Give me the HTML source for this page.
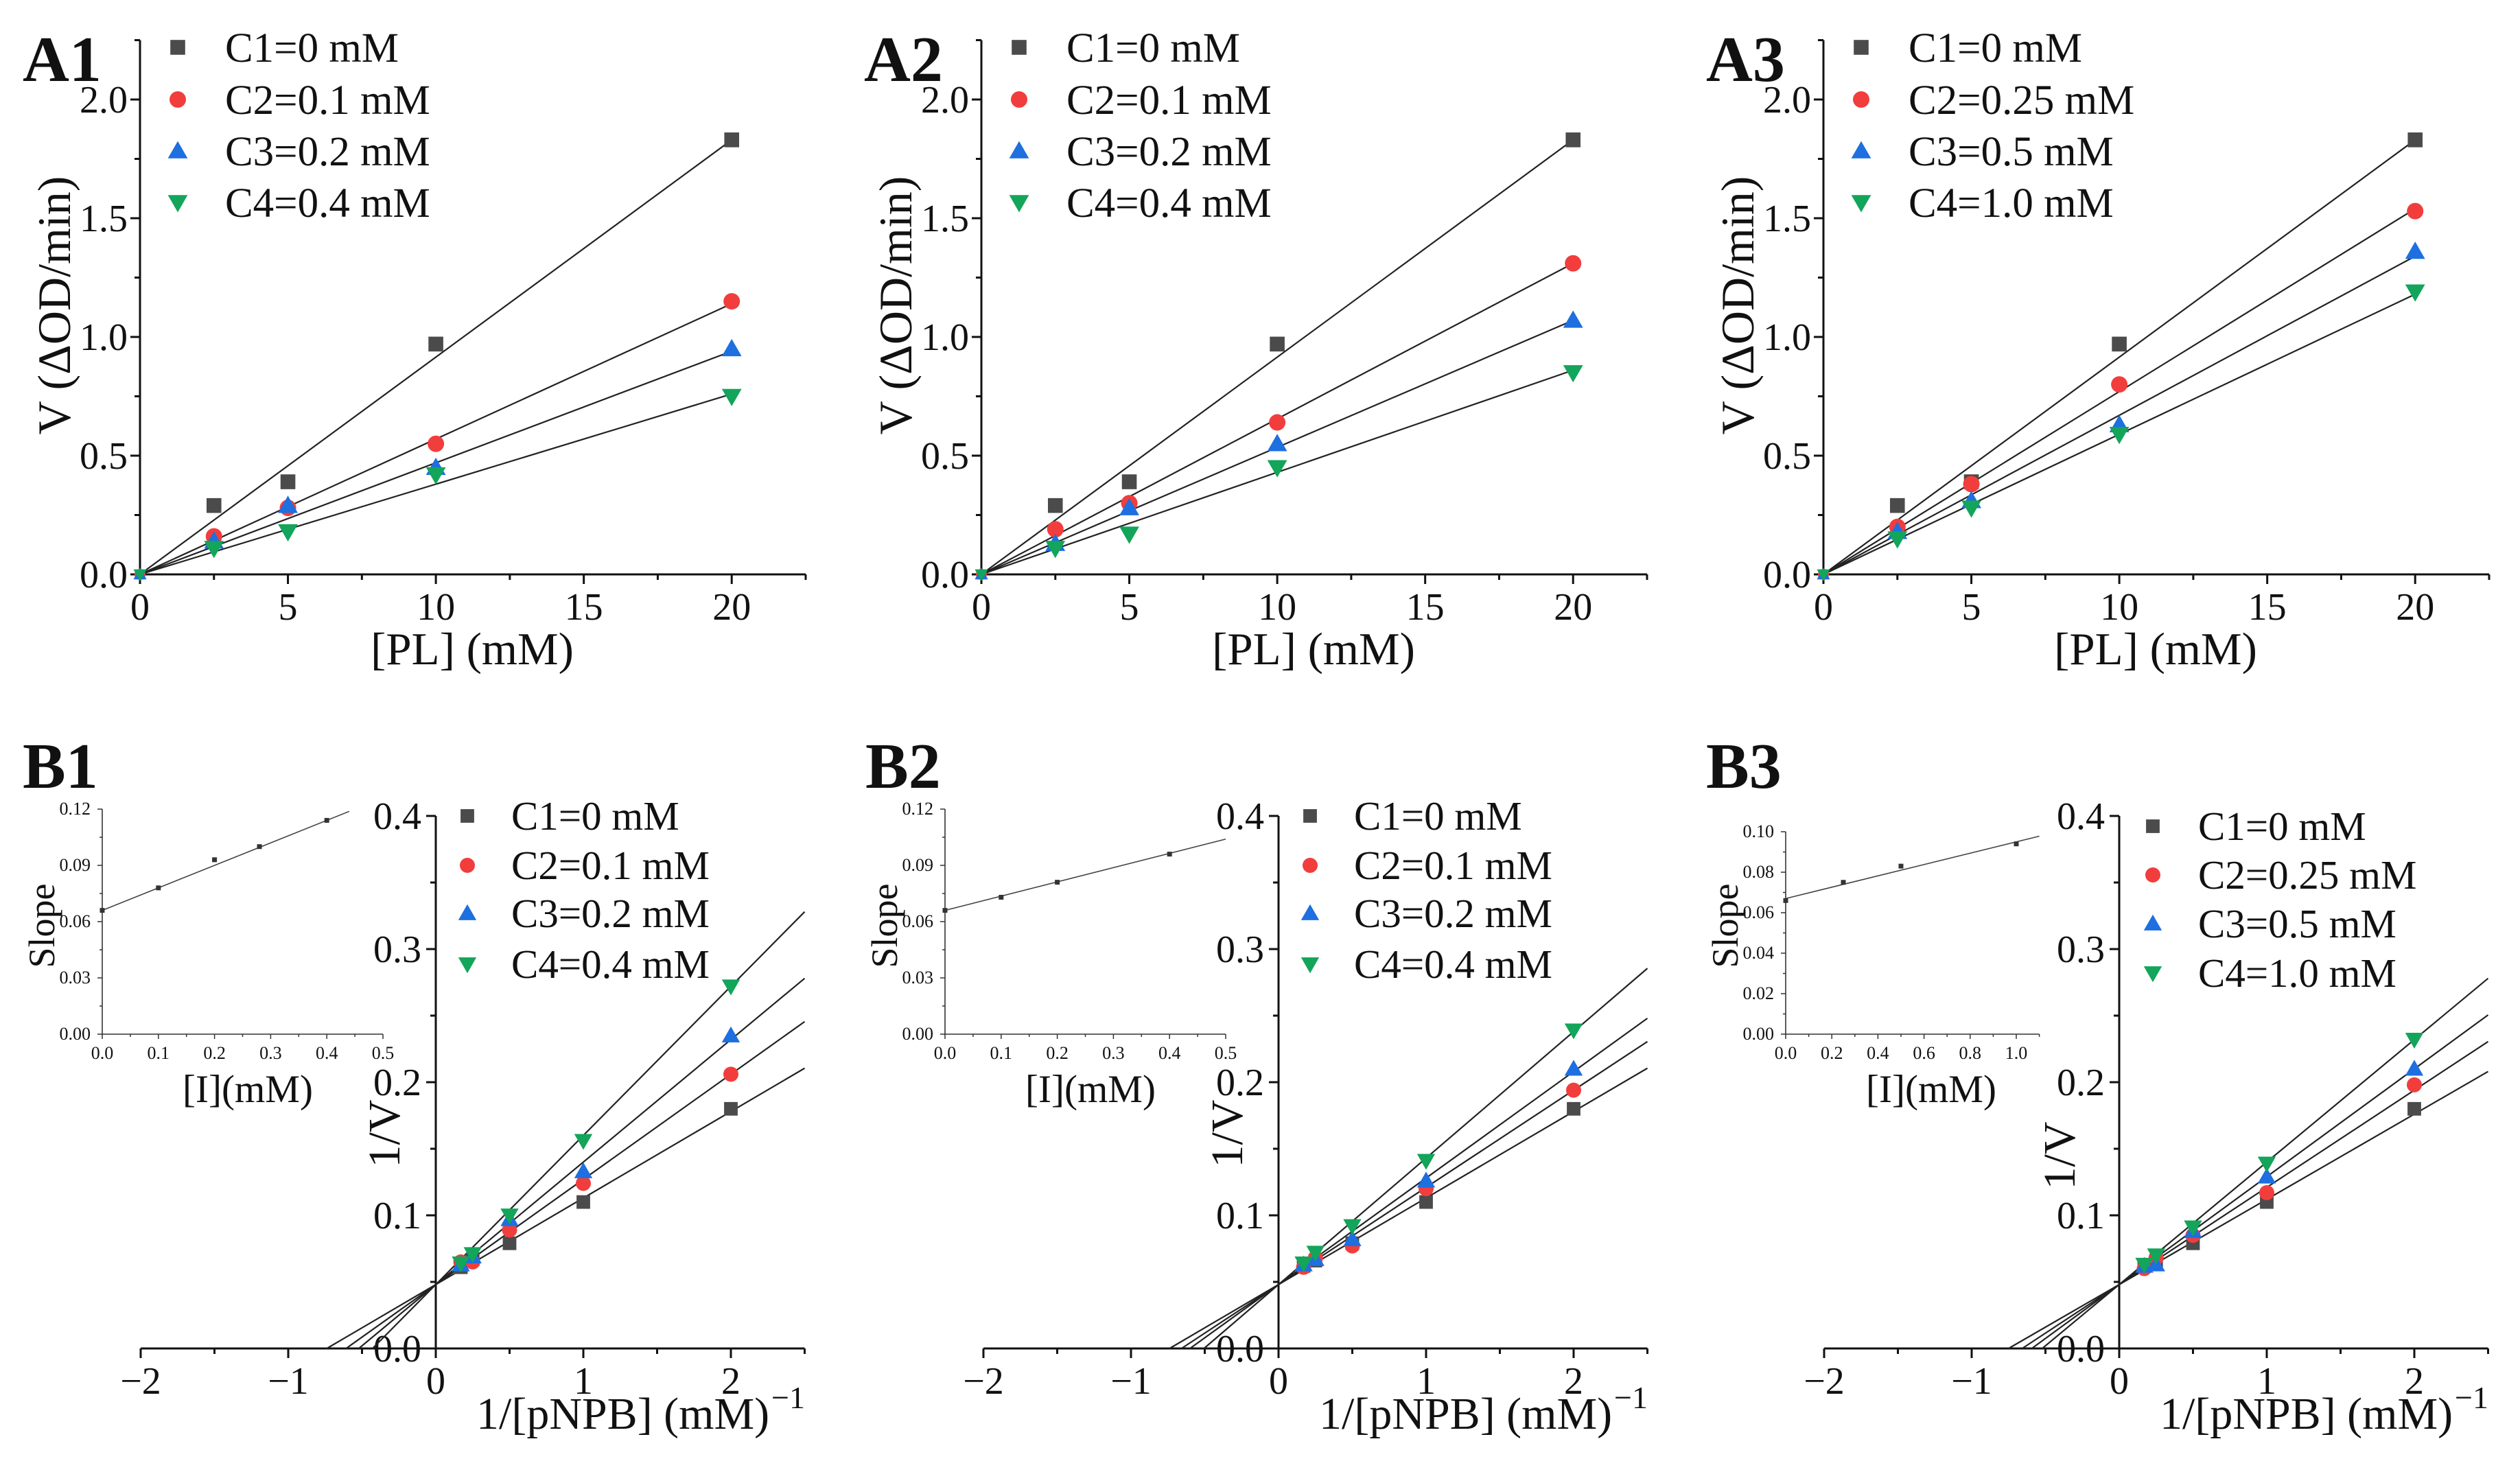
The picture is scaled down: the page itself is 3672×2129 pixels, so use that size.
<!DOCTYPE html>
<html><head><meta charset="utf-8"><style>
html,body{margin:0;padding:0;background:#fff}
svg{display:block}
svg text{font-family:"Liberation Serif","Times New Roman","DejaVu Serif",serif !important;fill:#111}
</style></head><body>
<svg id="fig" width="3672" height="2129" viewBox="0 0 3672 2129" xmlns="http://www.w3.org/2000/svg" font-family="Liberation Serif, serif"></svg>
<script>
// ---- data ----
const aX = [2.5, 5, 10, 20];
const a1C1 = [0.29, 0.39, 0.97, 1.83];
const a1C2 = [0.16, 0.28, 0.55, 1.15];
const a1C3 = [0.14, 0.29, 0.45, 0.95];
const a1C4 = [0.11, 0.18, 0.42, 0.75];
const a1Slopes = [0.0915, 0.057, 0.047, 0.038];
const a2C1 = [0.29, 0.39, 0.97, 1.83];
const a2C2 = [0.19, 0.30, 0.64, 1.31];
const a2C3 = [0.13, 0.28, 0.55, 1.07];
const a2C4 = [0.11, 0.17, 0.45, 0.85];
const a2Slopes = [0.0915, 0.0655, 0.0535, 0.043];
const a3C1 = [0.29, 0.39, 0.97, 1.83];
const a3C2 = [0.20, 0.38, 0.80, 1.53];
const a3C3 = [0.18, 0.31, 0.63, 1.36];
const a3C4 = [0.15, 0.28, 0.59, 1.19];
const a3Slopes = [0.0915, 0.077, 0.067, 0.059];
const bX = [0.17, 0.25, 0.5, 1, 2];
const b1C1 = [0.061, 0.067, 0.079, 0.110, 0.180];
const b1C2 = [0.065, 0.065, 0.089, 0.124, 0.206];
const b1C3 = [0.063, 0.069, 0.097, 0.133, 0.235];
const b1C4 = [0.064, 0.071, 0.100, 0.156, 0.272];
const b1Slopes = [0.065, 0.079, 0.092, 0.112];
const b2C1 = [0.062, 0.066, 0.079, 0.110, 0.180];
const b2C2 = [0.061, 0.068, 0.077, 0.120, 0.194];
const b2C3 = [0.063, 0.067, 0.082, 0.126, 0.210];
const b2C4 = [0.064, 0.072, 0.092, 0.141, 0.239];
const b2Slopes = [0.065, 0.073, 0.080, 0.095];
const b3C1 = [0.062, 0.066, 0.079, 0.110, 0.180];
const b3C2 = [0.060, 0.068, 0.085, 0.117, 0.198];
const b3C3 = [0.062, 0.063, 0.088, 0.129, 0.210];
const b3C4 = [0.063, 0.070, 0.091, 0.139, 0.232];
const b3Slopes = [0.064, 0.073, 0.081, 0.092];
const bIntercept = 0.048;
const in1X = [0, 0.1, 0.2, 0.28, 0.4];
const in1Y = [0.066, 0.078, 0.093, 0.100, 0.114];
const in1Fit = [0.066, 0.12];
const in2X = [0, 0.1, 0.2, 0.4];
const in2Y = [0.066, 0.073, 0.081, 0.096];
const in2Fit = [0.066, 0.076];
const in3X = [0, 0.25, 0.5, 1.0];
const in3Y = [0.066, 0.075, 0.083, 0.094];
const in3Fit = [0.067, 0.028];
const legA12 = ["C1=0 mM","C2=0.1 mM","C3=0.2 mM","C4=0.4 mM"];
const legA3 = ["C1=0 mM","C2=0.25 mM","C3=0.5 mM","C4=1.0 mM"];
const aXTicks = [0,5,10,15,20];
const aYTicks = ["0.0","0.5","1.0","1.5","2.0"];
const bXTicks = ["\u22122","\u22121","0","1","2"];
const bYTicks = ["0.0","0.1","0.2","0.3","0.4"];

const COLORS = ["#4b4b4b","#f23d3d","#1e6fe0","#13a55a"];
const NS = "http://www.w3.org/2000/svg";
const FONT = '"Liberation Serif","Times New Roman","DejaVu Serif",serif';
const svg = document.getElementById("fig");
function el(tag, attrs, parent){const e=document.createElementNS(NS,tag);for(const k in attrs)e.setAttribute(k,attrs[k]);(parent||svg).appendChild(e);return e;}
function txt(s, attrs, parent){const t=el("text",attrs,parent);t.style.fontFamily=FONT;t.textContent=s;return t;}
function marker(kind, cx, cy, s, g){
  let m;
  if(kind===0) m=el("rect",{x:cx-s*0.45,y:cy-s*0.45,width:s*0.9,height:s*0.9,fill:COLORS[0]},g);
  else if(kind===1) m=el("circle",{cx:cx,cy:cy,r:s*0.5,fill:COLORS[1]},g);
  else if(kind===2) m=el("polygon",{points:`${cx},${cy-s*0.6} ${cx-s*0.6},${cy+s*0.45} ${cx+s*0.6},${cy+s*0.45}`,fill:COLORS[2]},g);
  else m=el("polygon",{points:`${cx},${cy+s*0.6} ${cx-s*0.6},${cy-s*0.45} ${cx+s*0.6},${cy-s*0.45}`,fill:COLORS[3]},g);
  return m;
}

function panelA(ox, label, series, slopes, legend){
  const g=el("g",{transform:`translate(${ox},0)`});
  
  
  const sx=v=>204+v*(970/22.5), sy=v=>837-v*346;
  const ax=el("path",{d:`M${sx(0)},${sy(2.25)} V${sy(0)} H${sx(22.5)}`,stroke:"#111","stroke-width":3,fill:"none"},g);
   
  for(let v=0;v<=22.5;v+=2.5){const maj=v%5===0;el("line",{x1:sx(v),x2:sx(v),y1:sy(0),y2:sy(0)+(maj?14:8),stroke:"#111","stroke-width":3},g);}
  for(let v=0;v<=2.25;v+=0.25){const maj=Math.abs(v*2-Math.round(v*2))<1e-6;el("line",{x1:sx(0),x2:sx(0)-(maj?14:8),y1:sy(v),y2:sy(v),stroke:"#111","stroke-width":3},g);}
  aXTicks.forEach(v=>{const t=txt(String(v),{x:sx(v),y:903,"font-size":56,"text-anchor":"middle"},g);});
  aYTicks.forEach(s=>{const t=txt(s,{x:186,y:sy(parseFloat(s))+19,"font-size":56,"text-anchor":"end"},g);});
  slopes.forEach((m,i)=>{const l=el("line",{x1:sx(0),y1:sy(0),x2:sx(20),y2:sy(20*m),stroke:"#222","stroke-width":2.2},g);});
  series.forEach((ys,i)=>{
    const mk=marker(i,sx(0),sy(0),16,g);
    ys.forEach((y,j)=>{const p=marker(i,sx(aX[j]),sy(y),24,g);});
  });
  const rows=[69,145,220,295];
  legend.forEach((s,i)=>{const m=marker(i,259,rows[i],24,g);
    const t=txt(s,{x:328,y:rows[i]+21,"font-size":61},g);});
  const lb=txt(label,{x:33,y:118,"font-size":94,"font-weight":"bold"},g);
  const yt=txt("V (\u0394OD/min)",{x:0,y:0,"font-size":68,"text-anchor":"middle",transform:`translate(102,445) rotate(-90)`},g);
  const xt=txt("[PL] (mM)",{x:688,y:968,"font-size":67,"text-anchor":"middle"},g);
}

function panelB(ox, label, series, slopes, legend, inset, lg){
  const g=el("g",{transform:`translate(${ox},0)`});
  
  
  const sx=v=>635+v*215, sy=v=>1965-v*1940;
  const ax=el("path",{d:`M${sx(-2)},${sy(0)} H${sx(2.5)} M${sx(0)},${sy(0)} V${sy(0.4)}`,stroke:"#111","stroke-width":3,fill:"none"},g);
   
  for(let v=-2;v<=2.5;v+=0.5){const maj=Math.abs(v-Math.round(v))<1e-6;el("line",{x1:sx(v),x2:sx(v),y1:sy(0),y2:sy(0)+(maj?14:8),stroke:"#111","stroke-width":3},g);}
  for(let k=0;k<=8;k++){const v=k*0.05;el("line",{x1:sx(0),x2:sx(0)-(k%2===0?14:8),y1:sy(v),y2:sy(v),stroke:"#111","stroke-width":3},g);}
  bXTicks.forEach((s,i)=>{const t=txt(s,{x:sx(i-2),y:2031,"font-size":56,"text-anchor":"middle"},g);});
  bYTicks.forEach(s=>{const t=txt(s,{x:614,y:sy(parseFloat(s))+19,"font-size":56,"text-anchor":"end"},g);});
  slopes.forEach((m,i)=>{const x0=-bIntercept/m;const l=el("line",{x1:sx(x0),y1:sy(0),x2:sx(2.5),y2:sy(bIntercept+m*2.5),stroke:"#222","stroke-width":2.2},g);});
  series.forEach((ys,i)=>{ys.forEach((y,j)=>{const p=marker(i,sx(bX[j]),sy(y),22,g);});});
  lg.rows.forEach((r,i)=>{const m=marker(i,lg.mx,r,22,g);
    const t=txt(legend[i],{x:lg.tx,y:r+20,"font-size":59},g);});
  const lb=txt(label,{x:33,y:1148,"font-size":94,"font-weight":"bold"},g);
  const yt=txt("1/V",{x:0,y:0,"font-size":66,"text-anchor":"middle",transform:`translate(${lg.vx},${lg.vy}) rotate(-90)`},g);
  const xt=txt("1/[pNPB] (mM)",{x:694,y:2082,"font-size":66},g);
  const sp=txt("\u22121",{x:1124,y:2052,"font-size":46},g);
  const ig=el("g",{},g);
  const ix=v=>149+v*inset.px, iy=v=>1507-v*inset.py;
  el("path",{d:`M${ix(0)},${iy(inset.ymax)} V${iy(0)} H${ix(inset.xmax)}`,stroke:"#333","stroke-width":1.6,fill:"none"},ig);
  for(let k=0;k*inset.xstep/2<=inset.xmax+1e-9;k++){const v=k*inset.xstep/2;el("line",{x1:ix(v),x2:ix(v),y1:iy(0),y2:iy(0)+(k%2===0?7:4),stroke:"#333","stroke-width":1.5},ig);
    if(k%2===0){const t=txt(v.toFixed(1),{x:ix(v),y:1543,"font-size":26,"text-anchor":"middle"},ig);}}
  for(let k=0;k*inset.ystep/2<=inset.ymax+1e-9;k++){const v=k*inset.ystep/2;el("line",{x1:ix(0),x2:ix(0)-(k%2===0?7:4),y1:iy(v),y2:iy(v),stroke:"#333","stroke-width":1.5},ig);
    if(k%2===0){const t=txt(v.toFixed(2),{x:132,y:iy(v)+8,"font-size":26,"text-anchor":"end"},ig);}}
  const fl=el("line",{x1:ix(0),y1:iy(inset.fit[0]),x2:ix(inset.lineEnd),y2:iy(inset.fit[0]+inset.fit[1]*inset.lineEnd),stroke:"#444","stroke-width":1.6},ig);
  
  inset.x.forEach((v,j)=>{const r=el("rect",{x:ix(v)-3.5,y:iy(inset.y[j])-3.5,width:7,height:7,fill:"#333"},ig);});
  const st=txt("Slope",{x:0,y:0,"font-size":54,"text-anchor":"middle",transform:"translate(79,1349) rotate(-90)"},ig);
  const it=txt("[I](mM)",{x:361,y:1606,"font-size":57,"text-anchor":"middle"},ig);
}

panelA(0,"A1",[a1C1,a1C2,a1C3,a1C4],a1Slopes,legA12);
panelA(1226,"A2",[a2C1,a2C2,a2C3,a2C4],a2Slopes,legA12);
panelA(2453,"A3",[a3C1,a3C2,a3C3,a3C4],a3Slopes,legA3);
const lgB={rows:[1189,1261,1331,1405],mx:681,tx:745,vx:582,vy:1652};
const lgB3={rows:[1204,1275,1346,1418],mx:684,tx:750,vx:570,vy:1684};
panelB(0,"B1",[b1C1,b1C2,b1C3,b1C4],b1Slopes,legA12,{x:in1X,y:in1Y,fit:in1Fit,px:818,py:2733,xmax:0.5,ymax:0.12,xstep:0.1,ystep:0.03,lineEnd:0.44},lgB);
panelB(1228,"B2",[b2C1,b2C2,b2C3,b2C4],b2Slopes,legA12,{x:in2X,y:in2Y,fit:in2Fit,px:818,py:2733,xmax:0.5,ymax:0.12,xstep:0.1,ystep:0.03,lineEnd:0.5},lgB);
panelB(2453,"B3",[b3C1,b3C2,b3C3,b3C4],b3Slopes,legA3,{x:in3X,y:in3Y,fit:in3Fit,px:336,py:2950,xmax:1.1,ymax:0.10,xstep:0.2,ystep:0.02,lineEnd:1.1},lgB3);
</script>
</body></html>
